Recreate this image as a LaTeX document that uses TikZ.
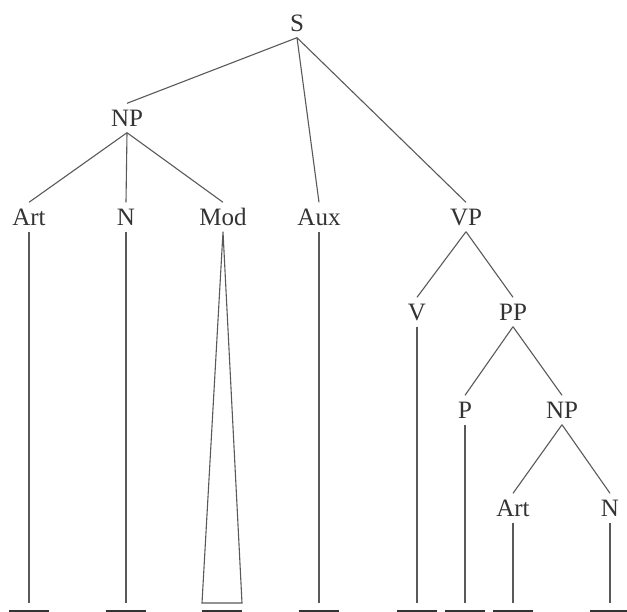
\documentclass[tikz,border=0pt]{standalone}
\usepackage{fontspec}
\setmainfont{Liberation Serif}
\usepackage{tikz}
\usetikzlibrary{positioning}
\tikzset{
  csp/.style={inner xsep=2pt,inner ysep=6pt,text height=17pt,text depth=0pt,text=black!80},
  ag/.style={draw=black!65,line width=1.1pt},
  alj/.style={draw=black!80,line width=3pt},
}
\begin{document}
\begin{tikzpicture}[x=1pt,y=-1pt,font=\fontsize{25}{29}\selectfont]
  \useasboundingbox (0,0) rectangle (627,612);
  % nodes
  \node[csp] (S) at (297,23) {S};
  \node[csp] (NP) at (127,118) {NP};
  \node[csp] (Art) at (29,217) {Art}; \node[csp] (N) at (126,217) {N};
  \node[csp] (Mod) at (223,217) {Mod}; \node[csp] (Aux) at (319,217) {Aux};
  \node[csp] (VP) at (466,217) {VP};
  \node[csp] (V) at (417,312) {V}; \node[csp] (PP) at (513,312) {PP};
  \node[csp] (P) at (465,410) {P}; \node[csp] (NPb) at (562,410) {NP};
  \node[csp] (Artb) at (513,508) {Art}; \node[csp] (Nb) at (610,508) {N};
  % leaf ends
  \coordinate (artl) at (29,603); \coordinate (nl) at (126,603);
  \coordinate (modl) at (202,603); \coordinate (modr) at (242,603);
  \coordinate (modm) at (222,603);
  \coordinate (auxl) at (319,603); \coordinate (vl) at (417,603);
  \coordinate (pl) at (465,603); \coordinate (artbl) at (513,603);
  \coordinate (nbl) at (610,603);
  % branches
  \draw[ag] (S.south) -- (NP.north);
  \draw[ag] (S.south) -- (Aux.north);
  \draw[ag] (S.south) -- (VP.north);
  \draw[ag] (NP.south) -- (Art.north);
  \draw[ag] (NP.south) -- (N.north);
  \draw[ag] (NP.south) -- (Mod.north);
  \draw[ag] (VP.south) -- (V.north);
  \draw[ag] (VP.south) -- (PP.north);
  \draw[ag] (PP.south) -- (P.north);
  \draw[ag] (PP.south) -- (NPb.north);
  \draw[ag] (NPb.south) -- (Artb.north);
  \draw[ag] (NPb.south) -- (Nb.north);
  % leaves
  \foreach \a/\b in {Art/artl,N/nl,Aux/auxl,V/vl,P/pl,Artb/artbl,Nb/nbl}
    \draw[ag] (\a.south) -- (\b);
  \draw[ag] (Mod.south) -- (modl) -- (modr) -- cycle;
  % blanks
  \foreach \b in {artl,nl,modm,auxl,vl,pl,artbl,nbl}
    \draw[alj] ([shift={(-20,8)}]\b) -- ([shift={(20,8)}]\b);
\end{tikzpicture}
\end{document}
